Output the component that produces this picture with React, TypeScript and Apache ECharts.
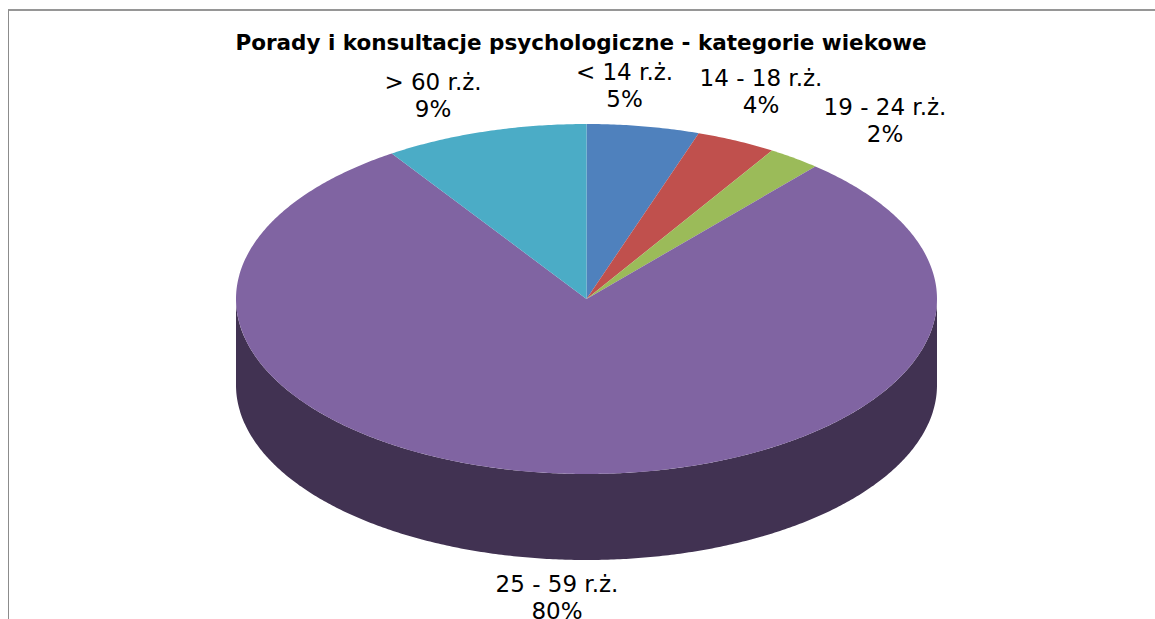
import React, { useEffect, useRef } from "react";
import * as echarts from "echarts";

const titleText = "Porady i konsultacje psychologiczne - kategorie wiekowe";
const categories = ["< 14 r.ż.", "14 - 18 r.ż.", "19 - 24 r.ż.", "25 - 59 r.ż.", "> 60 r.ż."];
const shares = [5.2, 3.7, 2.45, 79.5, 9.4];
const sliceColors = ["#4F81BD", "#C0504D", "#9BBB59", "#8064A2", "#4BACC6"];
const wallColors = ["#2A4A70", "#73302E", "#5D7035", "#413252", "#2A6A7C"];

const CX = 586.5;
const CY = 299;
const RX = 350.5;
const RY = 175;
const DEPTH = 86;
const FONT = "DejaVu Sans, Verdana, sans-serif";
// label centre (x, y of the two-line block) per category
const labelAnchors = [
  [624.5, 85.5],
  [761, 91],
  [885, 120],
  [557, 597.5],
  [433, 95.5],
];

const total = shares.reduce((a, b) => a + b, 0);

function pt(deg: number, dy = 0): number[] {
  const t = (deg * Math.PI) / 180;
  return [CX + RX * Math.sin(t), CY - RY * Math.cos(t) + dy];
}

function arc(from: number, to: number, dy = 0): number[][] {
  const out: number[][] = [];
  for (let a = from; a < to; a += 0.5) out.push(pt(a, dy));
  out.push(pt(to, dy));
  return out;
}

function renderSlice(_params: any, api: any) {
  const i = api.value(0);
  let start = 0;
  for (let k = 0; k < i; k++) start += (shares[k] / total) * 360;
  const end = start + (api.value(1) / total) * 360;

  const children: any[] = [];
  const wFrom = Math.max(start, 90);
  const wTo = Math.min(end, 270);
  if (wTo > wFrom) {
    const top = arc(wFrom, wTo);
    const bottom = arc(wFrom, wTo, DEPTH).reverse();
    children.push({
      type: "polygon",
      z2: 1,
      shape: { points: top.concat(bottom) },
      style: { fill: wallColors[i] },
    });
  }
  children.push({
    type: "polygon",
    z2: 2,
    shape: { points: [[CX, CY], ...arc(start, end)] },
    style: { fill: sliceColors[i] },
  });
  children.push({
    type: "text",
    z2: 3,
    x: labelAnchors[i][0],
    y: labelAnchors[i][1],
    style: {
      text: `${categories[i]}\n${Math.round(api.value(1))}%`,
      fill: "#000000",
      font: `23px ${FONT}`,
      lineHeight: 27,
      align: "center",
      verticalAlign: "middle",
    },
  });
  return { type: "group", children };
}

export default function App() {
  const ref = useRef<HTMLDivElement>(null);
  useEffect(() => {
    document.body.style.margin = "0";
    const chart = echarts.init(ref.current!, null, { renderer: "svg" });
    chart.setOption({
      animation: false,
      backgroundColor: "#FFFFFF",
      title: {
        text: titleText,
        left: 576,
        top: 26.5,
        textAlign: "center",
        textStyle: { fontFamily: "DejaVu Sans", fontSize: 21.5, fontWeight: "bold", color: "#000000" },
      },
      graphic: [
        { type: "line", shape: { x1: 8, y1: 10, x2: 1155, y2: 10 }, style: { stroke: "#969696", lineWidth: 2 } },
        { type: "line", shape: { x1: 8.5, y1: 10, x2: 8.5, y2: 619 }, style: { stroke: "#8C8C8C", lineWidth: 1 } },
      ],
      series: [
        {
          type: "custom",
          coordinateSystem: "none",
          renderItem: renderSlice,
          clip: false,
          data: shares.map((v, i) => [i, v]),
        },
      ],
    });
    return () => chart.dispose();
  }, []);
  return <div ref={ref} style={{ width: 1155, height: 619 }} />;
}
